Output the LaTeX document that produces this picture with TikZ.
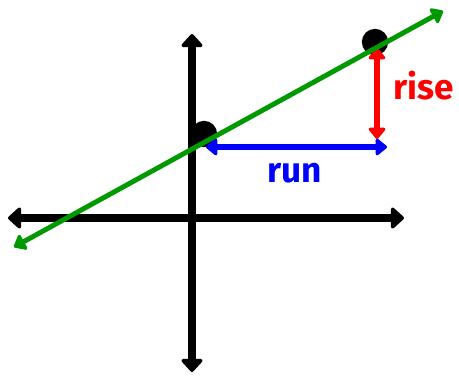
\documentclass[tikz,border=0pt]{standalone}
\usepackage{fontspec}
\setmainfont{Fira Sans}
\usetikzlibrary{arrows.meta}
\tikzset{
  axis/.style={line width=4.5pt,{Triangle[round,width=14pt,length=8pt]}-{Triangle[round,width=14pt,length=8pt]}},
  arrowline/.style={line width=3.5pt,{Triangle[round,width=11pt,length=7pt]}-{Triangle[round,width=11pt,length=7pt]}},
  pointdot/.style={circle,fill=black,inner sep=0pt,minimum size=15pt},
  label/.style={font=\bfseries\fontsize{20}{24}\selectfont,inner sep=0pt}
}
\begin{document}
\begin{tikzpicture}[x=0.02cm,y=-0.02cm,line cap=round]
  \useasboundingbox (0,0) rectangle (459,380);
  % axes
  \coordinate (xl) at (8,218);
  \coordinate (xr) at (404,218);
  \coordinate (yt) at (192,34);
  \coordinate (yb) at (192,372);
  \draw[axis] (xl) -- (xr);
  \draw[axis] (yb) -- (yt);
  % points on the line
  \node[pointdot] (p) at (204,134) {};
  \node[pointdot] (q) at (375,42) {};
  % rise and run
  \coordinate (risetop) at (377,48);
  \coordinate (risebot) at (377,139);
  \coordinate (runl) at (206,147);
  \coordinate (runr) at (387,147);
  \draw[red,arrowline] (risetop) -- (risebot);
  \draw[blue,arrowline] (runl) -- (runr);
  \node[label,red] (rise) at (424,86) {rise};
  \node[label,blue] (run) at (295,173) {run};
  % the line
  \coordinate (ls) at (14,247);
  \coordinate (le) at (443,11);
  \draw[green!60!black,arrowline,line width=2.8pt] (ls) -- (le);
\end{tikzpicture}
\end{document}
